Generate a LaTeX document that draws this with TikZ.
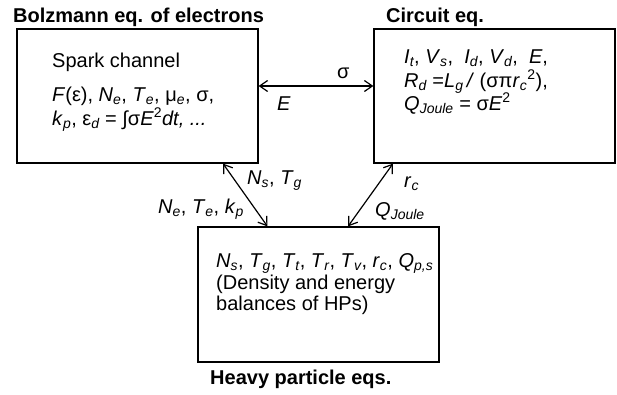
\documentclass[tikz,border=0pt]{standalone}
\usepackage{fontspec}
\setmainfont{Liberation Sans}
\usetikzlibrary{arrows.meta}
\newcommand{\sbs}[1]{\textsubscript{\itshape #1}}
\newcommand{\sps}[1]{\textsuperscript{#1}}
\begin{document}
\begin{tikzpicture}[x=1pt,y=-1pt,
  every node/.style={font=\fontsize{20}{24}\selectfont, inner sep=0pt},
  box/.style={draw, line width=1.2pt, minimum width=241pt, minimum height=134pt},
  txt/.style={anchor=base west},
  ttl/.style={anchor=base west, font=\fontsize{20}{24}\selectfont\bfseries},
  dbl/.style={line width=1.2pt, {Straight Barb[length=8pt,width=11pt]}-{Straight Barb[length=8pt,width=11pt]}}]
\useasboundingbox (0,0) rectangle (617,394);
% boxes
\node[box] (L) at (137.5,96) {};
\node[box] (R) at (494.5,96) {};
\node[box, minimum height=135pt] (B) at (318.5,294.5) {};
% titles
\node[ttl] (tL) at (13,22) {Bolzmann eq. of electrons};
\node[ttl] (tR) at (386,22) {Circuit eq.};
\node[ttl] (tB) at (210,384) {Heavy particle eqs.};
% left box text
\node[txt] (l1) at (52,67) {Spark channel};
\node[txt] (l2) at (52,101) {\textit{F}(ε), \textit{N}\sbs{e}, \textit{T}\sbs{e}, μ\sbs{e}, σ,};
\node[txt] (l3) at (52,125) {\textit{k}\sbs{p}, ε\sbs{d} = ∫σ\textit{E}\sps{2}\textit{dt, ...}};
% right box text
\node[txt] (r1) at (404,63) {\textit{I}\sbs{t}, \textit{V}\sbs{s},\ \ \textit{I}\sbs{d}, \textit{V}\sbs{d},\ \ \textit{E},};
\node[txt] (r2) at (404,87) {\textit{R}\sbs{d} =\textit{L}\sbs{g}\,\textit{/} (σπ\textit{r}\sbs{c}\sps{2}),};
\node[txt] (r3) at (404,110) {\textit{Q}\sbs{Joule} = σ\textit{E}\sps{2}};
% bottom box text
\node[txt] (b1) at (216,267) {\textit{N}\sbs{s}, \textit{T}\sbs{g}, \textit{T}\sbs{t}, \textit{T}\sbs{r}, \textit{T}\sbs{v}, \textit{r}\sbs{c}, \textit{Q}\sbs{p,s}};
\node[txt] (b2) at (216,289) {(Density and energy};
\node[txt] (b3) at (216,310) {balances of HPs)};
% connectors
\draw[dbl] ([yshift=10pt]L.east) -- ([yshift=10pt]R.west);
\draw[dbl] ([xshift=85.5pt]L.south) -- ([xshift=-51pt]B.north);
\draw[dbl] ([xshift=-101.5pt]R.south) -- ([xshift=29.5pt]B.north);
% connector labels
\node[txt] (sig) at (337,78) {σ};
\node[txt] (eE) at (277,110) {\textit{E}};
\node[txt] (nsg) at (247,184) {\textit{N}\sbs{s}, \textit{T}\sbs{g}};
\node[txt] (nek) at (158,213) {\textit{N}\sbs{e}, \textit{T}\sbs{e}, \textit{k}\sbs{p}};
\node[txt] (rc) at (404,187) {\textit{r}\sbs{c}};
\node[txt] (qj) at (375,216) {\textit{Q}\sbs{Joule}};
\end{tikzpicture}
\end{document}
